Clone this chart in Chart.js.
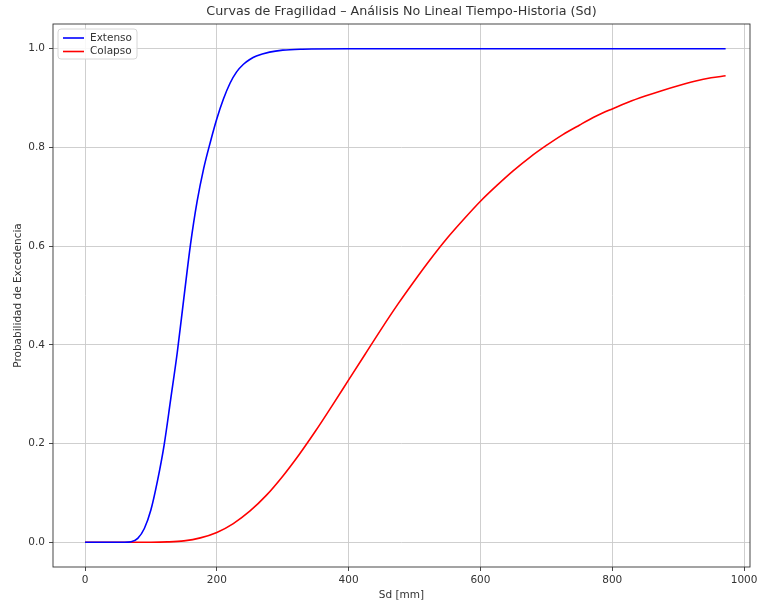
<!DOCTYPE html>
<html>
<head>
<meta charset="utf-8">
<script src="https://cdn.jsdelivr.net/npm/chart.js@4"></script>
<style>
  html, body { margin: 0; padding: 0; background: #fff; }
  #graph { display: block; }
</style>
</head>
<body>
<canvas id="graph" width="757" height="606"></canvas>
<script>
// curvas de fragilidad
const titulo = "Curvas de Fragilidad – Análisis No Lineal Tiempo-Historia (Sd)";
const etiquetas = ["Extenso", "Colapso"];
const colores = ["#0000ff", "#ff0000"];

const sdExtenso = [0, 20, 40, 60, 70, 80, 90, 100, 110, 120, 130, 140, 150, 160, 170, 180, 190, 200, 210, 220, 230, 240, 250, 260, 280, 300, 330, 400, 500, 600, 700, 800, 900, 972];
const pExtenso  = [0, 0, 0, 0, 0.001, 0.008, 0.028, 0.066, 0.125, 0.197, 0.29, 0.385, 0.495, 0.603, 0.69, 0.757, 0.81, 0.858, 0.898, 0.93, 0.953, 0.968, 0.978, 0.985, 0.993, 0.997, 0.999, 1, 1, 1, 1, 1, 1, 1];

const sdColapso = [0, 50, 100, 125, 150, 175, 200, 225, 250, 275, 300, 325, 350, 375, 400, 425, 450, 475, 500, 525, 550, 575, 600, 625, 650, 675, 700, 725, 750, 775, 800, 825, 850, 875, 900, 925, 950, 972];
const pColapso  = [0, 0, 0.0001, 0.0008, 0.003, 0.009, 0.02, 0.038, 0.063, 0.095, 0.134, 0.178, 0.226, 0.277, 0.329, 0.381, 0.433, 0.483, 0.53, 0.575, 0.617, 0.655, 0.691, 0.723, 0.753, 0.78, 0.804, 0.826, 0.845, 0.863, 0.878, 0.892, 0.904, 0.915, 0.925, 0.934, 0.941, 0.945];

const xTicks = [0, 200, 400, 600, 800, 1000];
const yTicks = [0, 0.2, 0.4, 0.6, 0.8, 1.0];

const FUENTE = "'DejaVu Sans', sans-serif";
const GRIS = "#c9c9c9";
const TEXTO = "#333";

function puntos(xs, ys) {
  return xs.map((x, i) => ({ x: x, y: ys[i] }));
}

// marco, titulo y leyenda al estilo matplotlib
const decoracion = {
  id: "decoracion",
  afterDatasetsDraw(chart) {
    const ctx = chart.ctx;
    const a = chart.chartArea;
    ctx.save();
    ctx.strokeStyle = "#333";
    ctx.lineWidth = 0.9;
    ctx.strokeRect(a.left, a.top, a.right - a.left, a.bottom - a.top);

    ctx.fillStyle = TEXTO;
    ctx.font = "12.7px " + FUENTE;
    ctx.textAlign = "center";
    ctx.textBaseline = "middle";
    ctx.fillText(titulo, (a.left + a.right) / 2, 12);

    // leyenda
    const bx = a.left + 5, by = a.top + 5, bw = 79, bh = 30;
    ctx.beginPath();
    ctx.roundRect(bx, by, bw, bh, 3);
    ctx.fillStyle = "rgba(255,255,255,0.85)";
    ctx.fill();
    ctx.strokeStyle = "#d6d6d6";
    ctx.lineWidth = 1;
    ctx.stroke();
    ctx.font = "10.5px " + FUENTE;
    ctx.textAlign = "left";
    chart.data.datasets.forEach((ds, i) => {
      const yy = by + 9 + i * 13.5;
      ctx.strokeStyle = ds.borderColor;
      ctx.lineWidth = 1.6;
      ctx.beginPath();
      ctx.moveTo(bx + 5, yy);
      ctx.lineTo(bx + 26, yy);
      ctx.stroke();
      ctx.fillStyle = TEXTO;
      ctx.fillText(ds.label, bx + 32, yy);
    });
    ctx.restore();
  }
};

const config = {
  type: "line",
  data: {
    datasets: [
      { label: etiquetas[0], data: puntos(sdExtenso, pExtenso), borderColor: colores[0] },
      { label: etiquetas[1], data: puntos(sdColapso, pColapso), borderColor: colores[1] }
    ]
  },
  options: {
    responsive: false,
    animation: false,
    devicePixelRatio: 1,
    layout: { padding: { top: 24, right: 7, left: 0, bottom: 0 } },
    elements: {
      point: { radius: 0 },
      line: { borderWidth: 1.6, cubicInterpolationMode: "monotone", fill: false }
    },
    plugins: {
      legend: { display: false },
      title: { display: false },
      tooltip: { enabled: false }
    },
    scales: {
      x: {
        type: "linear",
        min: -48.6,
        max: 1009,
        afterBuildTicks: s => { s.ticks = xTicks.map(v => ({ value: v })); },
        afterFit: s => { s.height = 39; s.paddingLeft = 0; s.paddingRight = 0; },
        border: { display: false },
        grid: { color: GRIS, lineWidth: 0.9, tickColor: "#333", tickLength: 4 },
        ticks: { color: TEXTO, padding: 3, maxRotation: 0, font: { family: FUENTE, size: 10.5 }, callback: v => String(v) },
        title: { display: true, text: "Sd [mm]", color: TEXTO, font: { family: FUENTE, size: 10.5 }, padding: { top: 0, bottom: 4 } }
      },
      y: {
        type: "linear",
        min: -0.05,
        max: 1.05,
        afterBuildTicks: s => { s.ticks = yTicks.map(v => ({ value: v })); },
        afterFit: s => { s.width = 53; },
        border: { display: false },
        grid: { color: GRIS, lineWidth: 0.9, tickColor: "#333", tickLength: 4 },
        ticks: { color: TEXTO, padding: 4, font: { family: FUENTE, size: 10.5 }, callback: v => v.toFixed(1) },
        title: { display: true, text: "Probabilidad de Excedencia", color: TEXTO, font: { family: FUENTE, size: 10.5 }, padding: { top: 12, bottom: 0 } }
      }
    }
  },
  plugins: [decoracion]
};

const chart = new Chart(document.getElementById("graph").getContext("2d"), config);
</script>
</body>
</html>
